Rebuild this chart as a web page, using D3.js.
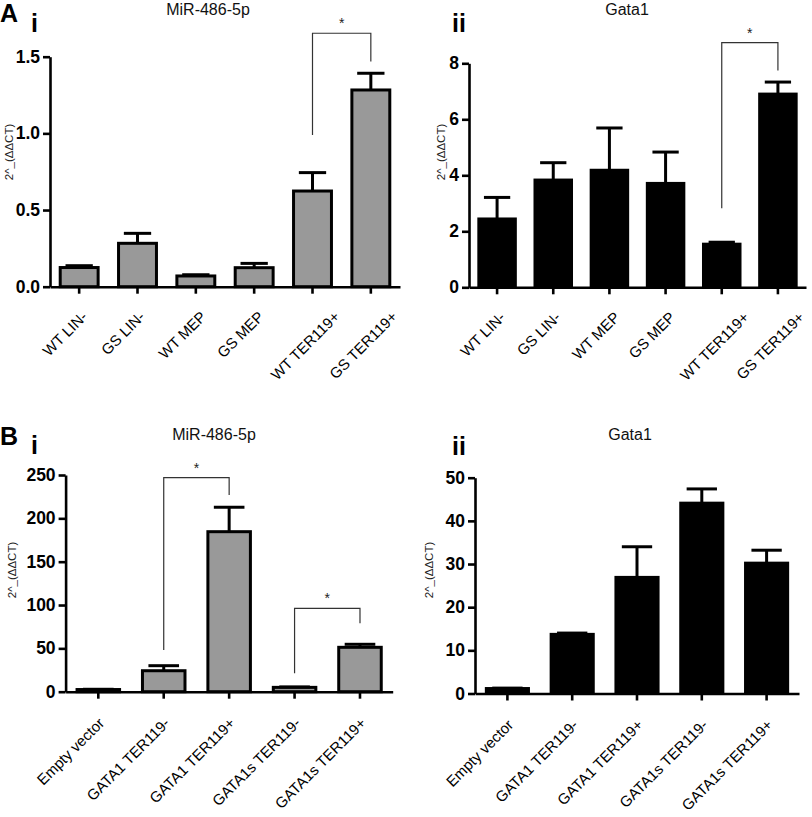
<!DOCTYPE html>
<html><head><meta charset="utf-8">
<script src="https://cdn.jsdelivr.net/npm/d3@7"></script>
<style>
body{margin:0;background:#fff}
svg{display:block}
text{font-family:'Liberation Sans',Arial,Helvetica,sans-serif}
</style></head>
<body><svg id="c" width="812" height="817"></svg>
<script>
// ---------- DATA ----------
const catsA = ["WT LIN-", "GS LIN-", "WT MEP", "GS MEP", "WT TER119+", "GS TER119+"];
const mirAVals = [0.125, 0.283, 0.070, 0.124, 0.624, 1.283];
const mirAErrs = [0.012, 0.065, 0.008, 0.028, 0.120, 0.109];
const gataAVals = [2.44, 3.83, 4.18, 3.71, 1.54, 6.90];
const gataAErrs = [0.77, 0.62, 1.51, 1.12, 0.07, 0.43];

const catsB = ["Empty vector", "GATA1 TER119-", "GATA1 TER119+", "GATA1s TER119-", "GATA1s TER119+"];
const mirBVals = [2.5, 24.2, 184.6, 5.0, 51.2];
const mirBErrs = [0.3, 5.8, 28.2, 0.5, 3.5];
const gataBVals = [1.15, 13.7, 26.9, 44.1, 30.2];
const gataBErrs = [0.1, 0.3, 7.1, 3.3, 3.0];

const ticksAi = [0, 0.5, 1.0, 1.5];
const ticksAii = [0, 2, 4, 6, 8];
const ticksBi = [0, 50, 100, 150, 200, 250];
const ticksBii = [0, 10, 20, 30, 40, 50];

// significance brackets: from/to category index, top value, left bottom, right bottom
const bracketsAi = [{from: 4, to: 5, top: 1.653, left: 0.99, right: 1.468}];
const bracketsAii = [{from: 4, to: 5, top: 8.74, left: 2.82, right: 7.74}];
const bracketsBi = [
  {from: 1, to: 2, top: 246.9, left: 48.1, right: 227},
  {from: 3, to: 4, top: 96.2, left: 21.2, right: 78.9}
];
const bracketsBii = [];

const yLabel = "2^_(ΔΔCT)";

// ---------- LAYOUT ----------
const svg = d3.select("#c");
const GRAY = "#999999";

const panels = [
  {cats: catsA, vals: mirAVals, errs: mirAErrs, ticks: ticksAi, fmt: d3.format(".1f"), fill: GRAY,
   xr: [50, 400], yr: [286.7, 56.7], title: "MiR-486-5p", tx: 208, ty: 15,
   letter: "A", lx: 0, ly: 22, roman: "i", rx: 31, ry: 32, ylx: 13, yly: 152,
   brackets: bracketsAi, labA: -26, labB: 0.56, labDy: 27},
  {cats: catsA, vals: gataAVals, errs: gataAErrs, ticks: ticksAii, fmt: d3.format("d"), fill: "#000",
   xr: [469, 806], yr: [287.3, 63.3], title: "Gata1", tx: 627, ty: 15,
   letter: null, roman: "ii", rx: 452, ry: 32, ylx: 445, yly: 152,
   brackets: bracketsAii, labA: -26, labB: 0.56, labDy: 27},
  {cats: catsB, vals: mirBVals, errs: mirBErrs, ticks: ticksBi, fmt: d3.format("d"), fill: GRAY,
   xr: [65.6, 392.7], yr: [691.7, 475], title: "MiR-486-5p", tx: 214, ty: 440,
   letter: "B", lx: 0, ly: 445, roman: "i", rx: 31, ry: 454, ylx: 16, yly: 570,
   brackets: bracketsBi, labA: 3, labB: 0, labDy: 28.5},
  {cats: catsB, vals: gataBVals, errs: gataBErrs, ticks: ticksBii, fmt: d3.format("d"), fill: "#000",
   xr: [475, 799], yr: [693.5, 477.7], title: "Gata1", tx: 630, ty: 440,
   letter: null, roman: "ii", rx: 452, ry: 455, ylx: 433, yly: 570,
   brackets: bracketsBii, labA: 3, labB: 0, labDy: 28.5}
];

function drawPanel(p) {
  const g = svg.append("g");
  const x = d3.scaleBand().domain(p.cats).range(p.xr).paddingInner(0.35).paddingOuter(0.175);
  const y = d3.scaleLinear().domain([0, p.ticks[p.ticks.length - 1]]).range(p.yr);
  const bw = x.bandwidth();
  const cx = i => x(p.cats[i]) + bw / 2;

  // bars
  g.selectAll("rect.bar").data(p.vals).join("rect")
    .attr("class", "bar")
    .attr("x", (d, i) => x(p.cats[i]))
    .attr("y", d => y(d))
    .attr("width", bw)
    .attr("height", d => y(0) - y(d))
    .attr("fill", p.fill)
    .attr("stroke", "#000")
    .attr("stroke-width", 3);

  // error bars (upper only)
  const eg = g.append("g").attr("stroke", "#000").attr("stroke-width", 3);
  p.vals.forEach((v, i) => {
    const top = y(v + p.errs[i]);
    eg.append("line").attr("x1", cx(i)).attr("x2", cx(i)).attr("y1", y(v)).attr("y2", top);
    eg.append("line").attr("x1", cx(i) - bw * 0.36).attr("x2", cx(i) + bw * 0.36)
      .attr("y1", top).attr("y2", top);
  });

  // y axis
  const ya = g.append("g").attr("transform", `translate(${p.xr[0]},0)`)
    .call(d3.axisLeft(y).tickValues(p.ticks).tickFormat(p.fmt).tickSize(7).tickSizeOuter(0).tickPadding(3));
  ya.select(".domain").attr("stroke-width", 2.6);
  ya.selectAll(".tick line").attr("stroke-width", 2.6);
  ya.selectAll(".tick text").attr("font-size", 17.5).attr("font-weight", "bold")
    .attr("font-family", "'Liberation Sans',Arial,sans-serif").attr("fill", "#000");

  // x axis
  const xa = g.append("g").attr("transform", `translate(0,${y(0)})`)
    .call(d3.axisBottom(x).tickSize(7).tickSizeOuter(0).tickFormat(""));
  xa.select(".domain").attr("stroke-width", 2.6);
  xa.selectAll(".tick line").attr("stroke-width", 2.6);

  // rotated category labels
  const labs = g.selectAll("text.cat").data(p.cats).join("text")
    .attr("class", "cat")
    .attr("text-anchor", "end")
    .attr("dominant-baseline", "central")
    .attr("font-size", 15)
    .attr("fill", "#000")
    .text(d => d);
  labs.each(function(d, i) {
    const L = this.getComputedTextLength();
    d3.select(this).attr("transform",
      `translate(${cx(i) + p.labA + p.labB * L},${y(0) + p.labDy}) rotate(-45)`);
  });

  // y label
  g.append("text")
    .attr("transform", `translate(${p.ylx},${p.yly}) rotate(-90)`)
    .attr("text-anchor", "middle")
    .attr("font-size", 11.5)
    .attr("fill", "#222")
    .text(yLabel);

  // title
  g.append("text").attr("x", p.tx).attr("y", p.ty).attr("text-anchor", "middle")
    .attr("font-size", 16).attr("fill", "#111").text(p.title);

  // panel letters
  if (p.letter) {
    g.append("text").attr("x", p.lx).attr("y", p.ly).attr("font-size", 25)
      .attr("font-weight", "bold").text(p.letter);
  }
  g.append("text").attr("x", p.rx).attr("y", p.ry).attr("font-size", 25)
    .attr("font-weight", "bold").text(p.roman);

  // significance brackets
  p.brackets.forEach(b => {
    const x1 = cx(b.from), x2 = cx(b.to);
    g.append("path")
      .attr("d", `M${x1},${y(b.left)}V${y(b.top)}H${x2}V${y(b.right)}`)
      .attr("fill", "none").attr("stroke", "#333").attr("stroke-width", 1.2);
    g.append("text").attr("x", (x1 + x2) / 2).attr("y", y(b.top) - 5)
      .attr("text-anchor", "middle").attr("font-size", 14).attr("fill", "#222").text("*");
  });
}

panels.forEach(drawPanel);
</script></body></html>
